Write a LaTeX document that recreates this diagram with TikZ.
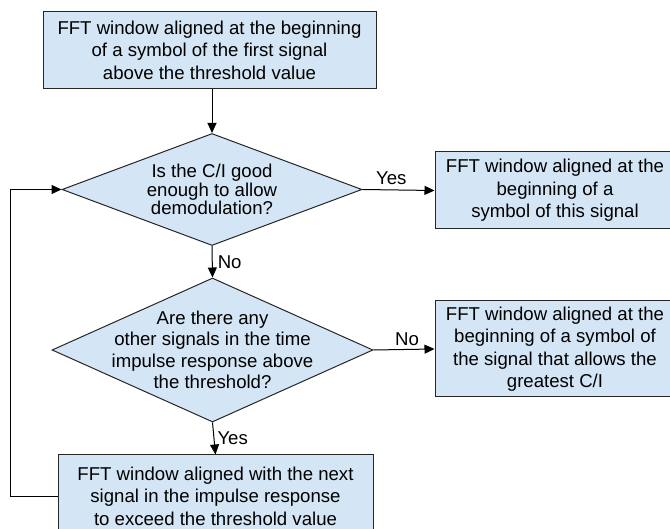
\documentclass[tikz,border=0pt]{standalone}
\usepackage{fontspec}
\setmainfont{Liberation Sans}
\usetikzlibrary{shapes.geometric,arrows.meta,positioning}
\definecolor{boxblue}{RGB}{212,229,245}
\tikzset{
  flowbox/.style={draw=black!85, fill=boxblue, line width=1pt, align=center,
    inner sep=0pt, font=\fontsize{18.6}{22.5}\selectfont},
  decision/.style={draw=black!85, fill=boxblue, line width=1pt, diamond, inner sep=0pt},
  asktext/.style={align=center, inner sep=0pt},
  flowarrow/.style={line width=1pt, -{Triangle[length=10pt,width=9pt]}},
  answer/.style={font=\fontsize{18.6}{22}\selectfont, inner sep=1pt}
}
\begin{document}
\begin{tikzpicture}[x=1pt,y=-1pt]
  \useasboundingbox (0,0) rectangle (670,529);
  % boxes and decisions
  \node[flowbox, minimum width=333pt, minimum height=77pt] (start) at (209.5,50)
    {FFT window aligned at the beginning\\of a symbol of the first signal\\above the threshold value};
  \node[decision, minimum width=300pt, minimum height=112pt] (ask1) at (212,189.5) {};
  \node[asktext, font=\fontsize{18.6}{17}\selectfont] (ask1text) at (ask1.center)
    {Is the C/I good\\enough to allow\\demodulation?};
  \node[flowbox, minimum width=240pt, minimum height=77pt] (good) at (555,190.5)
    {FFT window aligned at the\\beginning of a\\symbol of this signal};
  \node[decision, minimum width=321pt, minimum height=144pt] (ask2) at (212.5,350) {};
  \node[asktext, font=\fontsize{18.6}{21.3}\selectfont] (ask2text) at (ask2.center)
    {Are there any\\other signals in the time\\impulse response above\\the threshold?};
  \node[flowbox, minimum width=240pt, minimum height=96pt] (best) at (555,349)
    {FFT window aligned at the\\beginning of a symbol of\\the signal that allows the\\greatest C/I};
  \node[flowbox, minimum width=315pt, minimum height=82pt] (next) at (215.5,496)
    {FFT window aligned with the next\\signal in the impulse response\\to exceed the threshold value};
  % connectors
  \draw[flowarrow] (ask1.north |- start.south) -- (ask1.north);
  \draw[flowarrow] (ask1.east) -- node[answer, above, pos=0.4, yshift=4pt] {Yes} (good.west);
  \draw[flowarrow] (ask1.south) -- node[answer, right, xshift=4pt] {No} (ask2.north);
  \draw[flowarrow] (ask2.east) -- node[answer, above, pos=0.55, yshift=2pt] {No} (best.west);
  \draw[flowarrow] (ask2.south) -- node[answer, right, xshift=2pt] {Yes} (next.north);
  \draw[flowarrow] (next.west) -- ++(-47,0) |- (ask1.west);
\end{tikzpicture}
\end{document}
